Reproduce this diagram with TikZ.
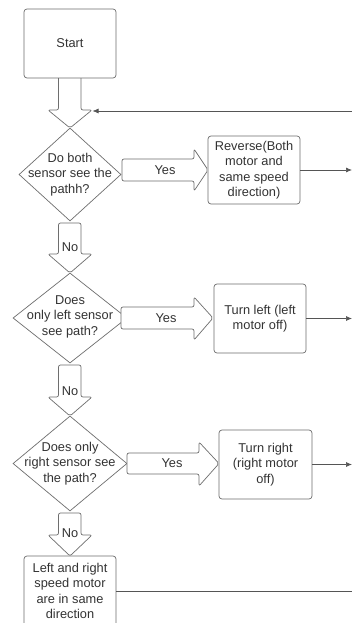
\documentclass[tikz,border=0pt]{standalone}
\usepackage{fontspec}
\setmainfont{Liberation Sans}
\usetikzlibrary{shapes.geometric,arrows.meta}
\definecolor{edge}{HTML}{6E6E6E}
\definecolor{wire}{HTML}{555555}
\definecolor{ink}{HTML}{333333}
\tikzset{
  box/.style={draw=edge,line width=0.7pt,rounded corners=3pt,inner sep=0pt,fill=white},
  dia/.style={draw=edge,line width=0.7pt,diamond,inner sep=0pt,fill=white},
  txt/.style={align=center,text=ink,font=\fontsize{12.8}{15.5}\selectfont,inner sep=0pt},
  blk/.style={draw=edge,line width=0.7pt,rounded corners=2pt,fill=white},
  wireline/.style={draw=wire,line width=0.7pt},
  tipline/.style={draw=wire,line width=0.7pt,-{Latex[length=6pt,width=5pt]}},
}
\begin{document}
\begin{tikzpicture}[x=1pt,y=-1pt]
\useasboundingbox[fill=white] (0,0) rectangle (352,623);
% downward block arrows
\draw[blk] (58.5,78) -- (58.5,110) -- (48,110) -- (70,128) -- (92,110) -- (81,110) -- (81,78);
\draw[blk] (58.5,223) -- (58.5,254) -- (48,254) -- (70,273) -- (92,254) -- (81,254) -- (81,223) -- cycle;
\draw[blk] (58.5,365) -- (58.5,397) -- (48,397) -- (70,416) -- (92,397) -- (81,397) -- (81,365) -- cycle;
\draw[blk] (58.5,513) -- (58.5,535) -- (48,535) -- (70,556) -- (92,535) -- (81,535) -- (81,513) -- cycle;
% main nodes
\node[box,minimum width=92pt,minimum height=69pt] (start) at (70,43.5) {};
\node[dia,minimum width=102pt,minimum height=93pt] (d1) at (70,174.5) {};
\node[dia,minimum width=114pt,minimum height=90pt] (d2) at (70,318) {};
\node[dia,minimum width=114pt,minimum height=95pt] (d3) at (70,463.5) {};
\node[box,minimum width=92pt,minimum height=68pt] (rev) at (254,170) {};
\node[box,minimum width=92pt,minimum height=69pt] (tl) at (260,318.5) {};
\node[box,minimum width=93pt,minimum height=69pt] (tr) at (265.5,464.5) {};
\node[box,minimum width=92pt,minimum height=70pt] (fin) at (70,591) {};
% "Yes" block arrows (on top of the diamonds)
\draw[blk] (122,159) -- (194,159) -- (194,149) -- (208,170) -- (194,191) -- (194,181) -- (122,181) -- cycle;
\draw[blk] (121,307) -- (194,307) -- (194,297) -- (213,318) -- (194,340) -- (194,329) -- (121,329) -- cycle;
\draw[blk] (127,453) -- (199,453) -- (199,442) -- (219,463.5) -- (199,486) -- (199,474) -- (127,474) -- cycle;
% texts
\node[txt] (startt) at (start) {Start};
\node[txt] (d1t) at (d1) {Do both\\sensor see the\\pathh?};
\node[txt] (d2t) at (70,316.5) {Does\\only left sensor\\see path?};
\node[txt] (d3t) at (d3) {Does only\\right sensor see\\the path?};
\node[txt] (revt) at (rev) {Reverse(Both\\motor and\\same speed\\direction)};
\node[txt] (tlt) at (tl) {Turn left (left\\motor off)};
\node[txt] (trt) at (tr) {Turn right\\(right motor\\off)};
\node[txt] (fint) at (fin) {Left and right\\speed motor\\are in same\\direction};
% labels on block arrows
\node[txt] (no1) at (70,247) {No};
\node[txt] (no2) at (70,391) {No};
\node[txt] (no3) at (70,533) {No};
\node[txt] (y1) at (165,170) {Yes};
\node[txt] (y2) at (166,318) {Yes};
\node[txt] (y3) at (172,463.5) {Yes};
% connectors to right edge
\coordinate (e0) at (354,111);
\coordinate (fb) at (92.5,111);
\coordinate (e1) at (352,170);
\coordinate (e2) at (352,318.5);
\coordinate (e3) at (352,464.5);
\coordinate (e4) at (354,591);
\draw[tipline] (e0) -- (fb);
\draw[tipline] (rev.east) -- (e1);
\draw[tipline] (tl.east) -- (e2);
\draw[tipline] (tr.east) -- (e3);
\draw[wireline] (fin.east) -- (e4);
\end{tikzpicture}
\end{document}
